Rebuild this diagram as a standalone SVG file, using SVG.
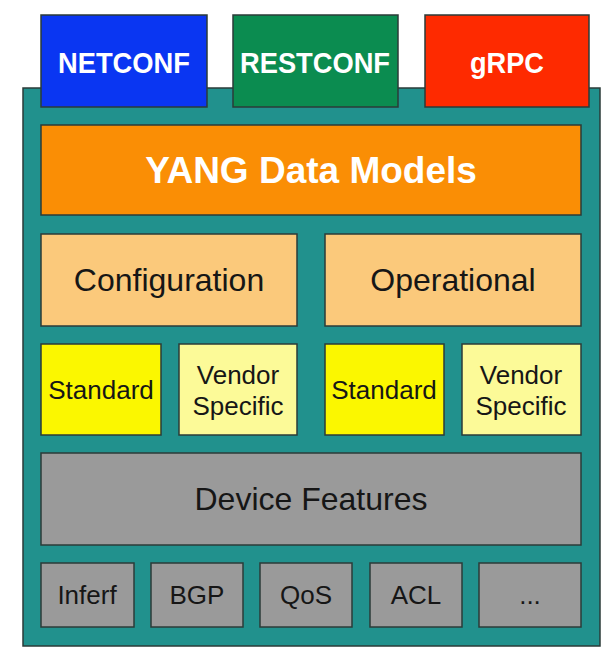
<svg xmlns="http://www.w3.org/2000/svg" width="616" height="661" viewBox="0 0 616 661">
<style>
.box{stroke:#2b3b38;stroke-width:1.5}
.t{font-family:"Liberation Sans",Arial,sans-serif;text-anchor:middle}
.w{fill:#ffffff;font-weight:bold}
.k{fill:#161616}
</style>
<rect width="616" height="661" fill="#ffffff"/>
<g id="container"><rect class="box" x="23" y="88" width="577" height="558" fill="#21918d"/></g>
<g id="netconf"><rect class="box" x="41" y="15" width="166" height="92" fill="#0a36f2"/><text class="t w" x="124" y="73" font-size="30" textLength="132" lengthAdjust="spacingAndGlyphs">NETCONF</text></g>
<g id="restconf"><rect class="box" x="233" y="15" width="165" height="92" fill="#0b8c50"/><text class="t w" x="315" y="73" font-size="30" textLength="150" lengthAdjust="spacingAndGlyphs">RESTCONF</text></g>
<g id="grpc"><rect class="box" x="425" y="15" width="164" height="92" fill="#fe2a00"/><text class="t w" x="507" y="73" font-size="30" textLength="74" lengthAdjust="spacingAndGlyphs">gRPC</text></g>
<g id="yang"><rect class="box" x="41" y="125" width="540" height="90" fill="#fa8e05"/><text class="t w" x="311" y="183" font-size="37">YANG Data Models</text></g>
<g id="configuration"><rect class="box" x="41" y="234" width="256" height="92" fill="#fbc97b"/><text class="t k" x="169" y="291" font-size="32">Configuration</text></g>
<g id="operational"><rect class="box" x="325" y="234" width="256" height="92" fill="#fbc97b"/><text class="t k" x="453" y="291" font-size="32">Operational</text></g>
<g id="standard1"><rect class="box" x="41" y="344" width="120" height="91" fill="#fbf700"/><text class="t k" x="101" y="399" font-size="26">Standard</text></g>
<g id="vendor1"><rect class="box" x="179" y="344" width="118" height="91" fill="#fcfa98"/><text class="t k" x="238" y="384" font-size="26">Vendor</text><text class="t k" x="238" y="415" font-size="26">Specific</text></g>
<g id="standard2"><rect class="box" x="325" y="344" width="119" height="91" fill="#fbf700"/><text class="t k" x="384" y="399" font-size="26">Standard</text></g>
<g id="vendor2"><rect class="box" x="462" y="344" width="119" height="91" fill="#fcfa98"/><text class="t k" x="521" y="384" font-size="26">Vendor</text><text class="t k" x="521" y="415" font-size="26">Specific</text></g>
<g id="device-features"><rect class="box" x="41" y="453" width="540" height="92" fill="#9a9a9a"/><text class="t k" x="311" y="510" font-size="32">Device Features</text></g>
<g id="inferf"><rect class="box" x="41" y="563" width="93" height="64" fill="#9a9a9a"/><text class="t k" x="87" y="604" font-size="26">Inferf</text></g>
<g id="bgp"><rect class="box" x="151" y="563" width="92" height="64" fill="#9a9a9a"/><text class="t k" x="197" y="604" font-size="26">BGP</text></g>
<g id="qos"><rect class="box" x="260" y="563" width="92" height="64" fill="#9a9a9a"/><text class="t k" x="306" y="604" font-size="26">QoS</text></g>
<g id="acl"><rect class="box" x="370" y="563" width="92" height="64" fill="#9a9a9a"/><text class="t k" x="416" y="604" font-size="26">ACL</text></g>
<g id="more"><rect class="box" x="479" y="563" width="102" height="64" fill="#9a9a9a"/><text class="t k" x="530" y="604" font-size="26">...</text></g>
<g id="connectors"></g>
</svg>
